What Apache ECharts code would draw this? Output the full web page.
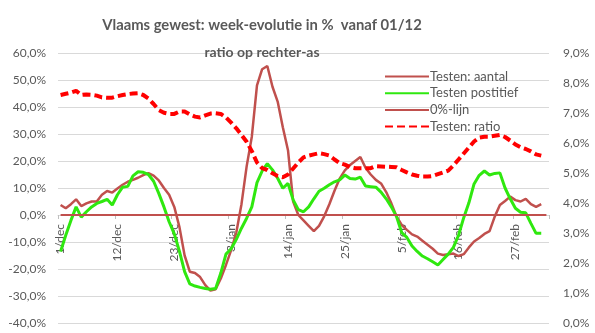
<!DOCTYPE html>
<html>
<head>
<meta charset="utf-8">
<script src="https://cdn.jsdelivr.net/npm/echarts@6/dist/echarts.min.js"></script>
<style>
html,body{margin:0;padding:0;background:#fff;}
#c{width:595px;height:333px;}
</style>
</head>
<body>
<div id="c"></div>
<script>
var categories = [
'1/dec','2/dec','3/dec','4/dec','5/dec','6/dec','7/dec','8/dec','9/dec','10/dec',
'11/dec','12/dec','13/dec','14/dec','15/dec','16/dec','17/dec','18/dec','19/dec','20/dec',
'21/dec','22/dec','23/dec','24/dec','25/dec','26/dec','27/dec','28/dec','29/dec','30/dec',
'31/dec','1/jan','2/jan','3/jan','4/jan','5/jan','6/jan','7/jan','8/jan','9/jan',
'10/jan','11/jan','12/jan','13/jan','14/jan','15/jan','16/jan','17/jan','18/jan','19/jan',
'20/jan','21/jan','22/jan','23/jan','24/jan','25/jan','26/jan','27/jan','28/jan','29/jan',
'30/jan','31/jan','1/feb','2/feb','3/feb','4/feb','5/feb','6/feb','7/feb','8/feb',
'9/feb','10/feb','11/feb','12/feb','13/feb','14/feb','15/feb','16/feb','17/feb','18/feb',
'19/feb','20/feb','21/feb','22/feb','23/feb','24/feb','25/feb','26/feb','27/feb','28/feb',
'1/mrt','2/mrt','3/mrt','4/mrt','5/mrt'
];

// Testen: aantal (week-evolutie, %)
var testenAantal = [
3.7,2.5,4.0,5.8,3.3,4.3,5.0,5.0,7.5,8.9,
8.3,9.8,11.2,12.3,13.0,13.8,14.8,15.5,14.6,12.8,
10.0,7.5,3.0,-4.5,-15.0,-21.0,-21.5,-23.0,-26.0,-28.0,
-27.5,-23.5,-18.5,-13.0,-6.5,4.0,18.0,29.0,48.0,54.0,
55.2,47.5,42.0,32.5,24.0,5.0,0.0,-2.0,-4.0,-6.0,
-4.0,-0.5,4.0,9.0,13.5,16.5,18.5,20.0,21.5,17.5,
15.0,13.0,11.7,8.5,4.3,-0.5,-3.7,-5.5,-7.2,-8.0,
-9.5,-11.0,-12.5,-14.3,-14.8,-14.5,-14.3,-15.2,-14.5,-12.0,
-9.8,-8.5,-7.0,-6.0,-0.6,3.7,5.2,6.8,5.5,5.0,
6.0,4.0,3.0,4.0,null
];

// Testen postitief (week-evolutie, %)
var testenPositief = [
-13.5,-7.5,-2.0,3.0,-0.8,1.2,3.0,4.3,5.0,5.8,
3.7,7.5,10.3,10.6,14.5,16.0,15.8,15.0,12.5,8.0,
3.0,-2.5,-7.0,-13.5,-21.0,-25.5,-26.3,-26.8,-27.2,-27.5,
-27.2,-21.5,-14.5,-12.5,-9.0,-4.9,-1.2,3.0,12.0,16.3,
19.0,16.7,13.6,9.9,11.7,5.6,2.0,1.2,3.0,6.0,
8.8,9.9,11.2,12.3,13.0,14.8,13.5,13.3,14.0,10.7,
10.5,10.3,8.5,6.0,3.0,-0.6,-6.5,-8.3,-11.5,-13.5,
-15.2,-16.2,-17.3,-18.5,-16.5,-14.5,-12.0,-7.5,-1.0,4.5,
11.5,14.7,16.3,14.8,15.4,15.6,10.0,6.0,2.5,1.0,
0.8,-3.1,-6.8,-6.8,null
];

// 0%-lijn
var nulLijn = [
0,0,0,0,0,0,0,0,0,0, 0,0,0,0,0,0,0,0,0,0,
0,0,0,0,0,0,0,0,0,0, 0,0,0,0,0,0,0,0,0,0,
0,0,0,0,0,0,0,0,0,0, 0,0,0,0,0,0,0,0,0,0,
0,0,0,0,0,0,0,0,0,0, 0,0,0,0,0,0,0,0,0,0,
0,0,0,0,0,0,0,0,0,0, 0,0,0,0,0
];

// Testen: ratio (%, right axis)
var testenRatio = [
7.60,7.64,7.68,7.74,7.60,7.62,7.61,7.58,7.52,7.51,
7.51,7.56,7.60,7.63,7.65,7.66,7.60,7.48,7.30,7.10,
7.01,6.97,6.97,7.05,7.05,6.95,6.88,6.85,6.92,6.98,
6.99,6.97,6.85,6.68,6.49,6.27,6.04,5.73,5.35,5.16,
5.10,4.99,4.90,4.86,4.95,5.15,5.35,5.52,5.58,5.62,
5.66,5.63,5.58,5.45,5.33,5.28,5.20,5.16,5.16,5.16,
5.16,5.23,5.22,5.21,5.20,5.19,5.10,5.02,4.95,4.91,
4.88,4.88,4.90,4.96,5.02,5.08,5.25,5.45,5.65,5.85,
6.05,6.18,6.21,6.21,6.24,6.27,6.20,6.08,5.95,5.86,
5.80,5.72,5.62,5.58,null
];

var titleLine1 = 'Vlaams gewest: week-evolutie in %  vanaf 01/12';
var titleLine2 = 'ratio op rechter-as';

var FONT = 'Lato, "Open Sans", sans-serif';
var GREY = '#595959';
function pct(v){ return v.toFixed(1).replace('.', ',') + '%'; }

var GRID_TOP = 53, GRID_BOTTOM = 10, H = 333;
var LEFT_MIN = -40, LEFT_MAX = 60;
// offset of the category axis so it sits at the 0 of the left axis
var plotH = H - GRID_TOP - GRID_BOTTOM;
var zeroOffset = -plotH * (0 - LEFT_MIN) / (LEFT_MAX - LEFT_MIN);

var chart = echarts.init(document.getElementById('c'), null, {renderer:'canvas'});
chart.setOption({
  animation: false,
  backgroundColor: '#fff',
  textStyle: {fontFamily: FONT},
  graphic: [
    {type:'text', style:{text: titleLine1, x: 262, y: 25, textAlign:'center', textVerticalAlign:'middle', font: 'bold 14.8px ' + FONT, fill: GREY}, z: 10},
    {type:'text', style:{text: titleLine2, x: 262, y: 52, textAlign:'center', textVerticalAlign:'middle', font: 'bold 14px ' + FONT, fill: GREY}, z: 10}
  ],
  legend: {
    orient: 'vertical',
    left: 379, top: 65,
    itemWidth: 44, itemHeight: 14, itemGap: 3.7,
    itemStyle: {color: 'rgba(0,0,0,0)', borderWidth: 0, opacity: 0},
    textStyle: {fontSize: 13, color: GREY, fontFamily: FONT, padding: [0,0,0,-4]},
    data: ['Testen: aantal','Testen postitief','0%-lijn','Testen: ratio']
  },
  grid: {left: 58, right: 46, top: GRID_TOP, bottom: GRID_BOTTOM, containLabel: false, outerBoundsMode: 'none'},
  xAxis: {
    type: 'category',
    data: categories,
    boundaryGap: true,
    position: 'bottom',
    offset: zeroOffset,
    axisLine: {show: true, onZero: false, lineStyle: {color: '#D9D9D9'}},
    axisTick: {show: true, interval: 10, length: 4, lineStyle: {color: '#BFBFBF'}},
    axisLabel: {interval: 10, rotate: 90, margin: 9, fontSize: 12, color: GREY, fontFamily: FONT},
    splitLine: {show: false}
  },
  yAxis: [
    {
      type: 'value', min: LEFT_MIN, max: LEFT_MAX, interval: 10,
      axisLine: {show: false}, axisTick: {show: false},
      axisLabel: {formatter: pct, fontSize: 12, color: GREY, margin: 12, fontFamily: FONT},
      splitLine: {lineStyle: {color: '#D9D9D9', width: 1}}
    },
    {
      type: 'value', min: 0, max: 9, interval: 1,
      axisLine: {show: false}, axisTick: {show: false},
      axisLabel: {formatter: pct, fontSize: 12, color: GREY, margin: 14, fontFamily: FONT},
      splitLine: {show: false}
    }
  ],
  series: [
    {name: 'Testen: aantal', type: 'line', yAxisIndex: 0, data: testenAantal, symbol: 'none',
     lineStyle: {color: '#C0504D', width: 2.5}, itemStyle: {color: '#C0504D'}, z: 3},
    {name: 'Testen postitief', type: 'line', yAxisIndex: 0, data: testenPositief, symbol: 'none',
     lineStyle: {color: '#2FE80F', width: 3}, itemStyle: {color: '#2FE80F'}, z: 4},
    {name: '0%-lijn', type: 'line', yAxisIndex: 0, data: nulLijn, symbol: 'none',
     lineStyle: {color: '#C0504D', width: 2}, itemStyle: {color: '#C0504D'}, z: 5},
    {name: 'Testen: ratio', type: 'line', yAxisIndex: 1, data: testenRatio, symbol: 'none',
     lineStyle: {color: '#FF0000', width: 4, type: [8, 4]}, itemStyle: {color: '#FF0000'}, z: 6}
  ]
});
</script>
</body>
</html>
